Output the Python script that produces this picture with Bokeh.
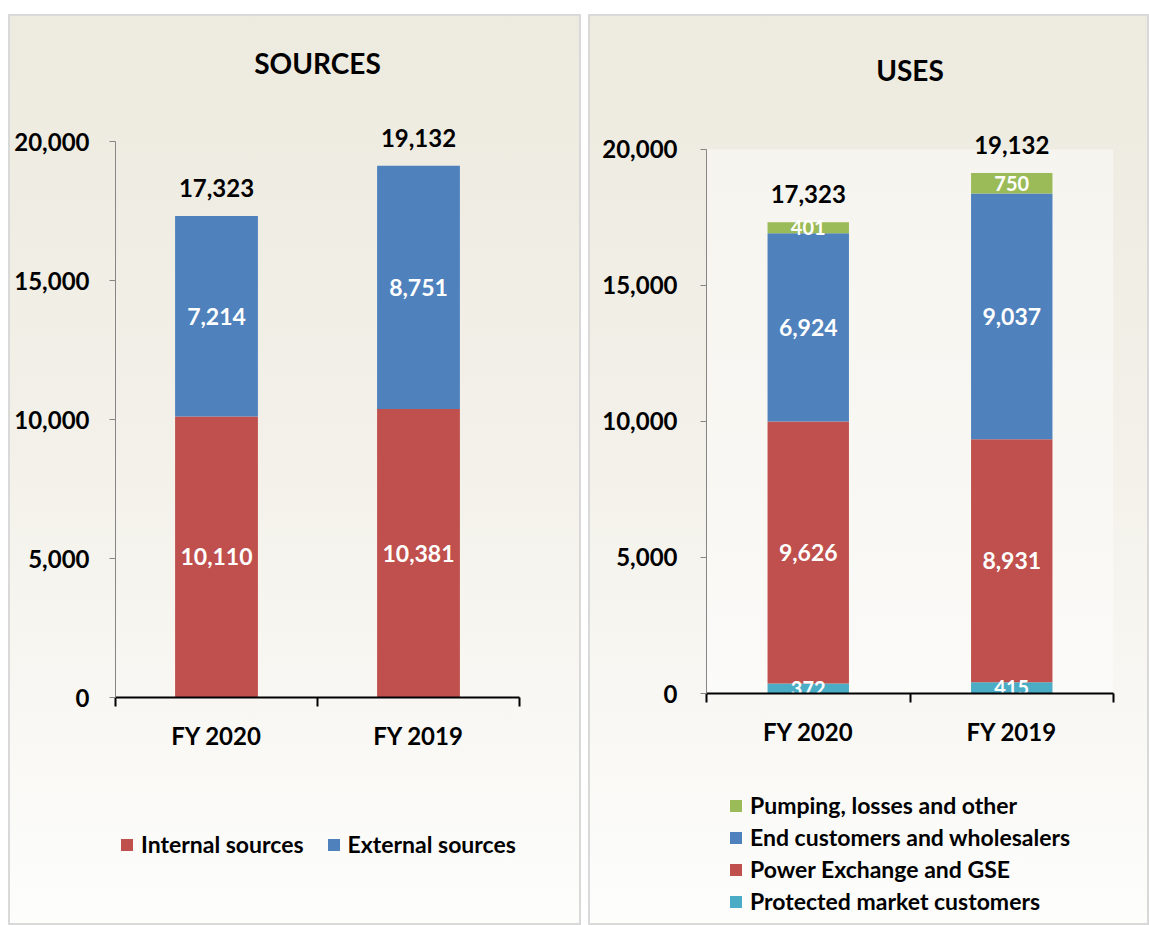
from bokeh.plotting import figure
from bokeh.models import (ColumnDataSource, Range1d, FixedTicker, LabelSet, Legend,
                          LegendItem, BoxAnnotation, NumeralTickFormatter)
from bokeh.core.properties import value
from bokeh.layouts import row, column
from bokeh.embed import file_html
from bokeh.resources import INLINE

# ---------------- data ----------------
categories = ["FY 2020", "FY 2019"]

src_series = ["Internal sources", "External sources"]
src_internal = [10110, 10381]
src_external = [7214, 8751]
src_totals = [17323, 19132]

use_series = ["Protected market customers", "Power Exchange and GSE",
              "End customers and wholesalers", "Pumping, losses and other"]
use_protected = [372, 415]
use_power = [9626, 8931]
use_end = [6924, 9037]
use_pumping = [401, 750]
use_totals = [17323, 19132]

y_ticks = [0, 5000, 10000, 15000, 20000]

RED = "#C0504D"
BLUE = "#4F81BD"
GREEN = "#9BBB59"
TEAL = "#4BACC6"
FONT = "Lato"
PANEL = {"background": "linear-gradient(180deg, #EDEADF 0%, #F2F0E8 45%, #FDFDFC 100%)",
         "outline": "2px solid #D9D9D9", "outline-offset": "-2px"}

xs = [i + 0.5 for i in range(len(categories))]


def clear(p):
    p.background_fill_color = None
    p.border_fill_color = None
    p.outline_line_color = None
    p.grid.visible = False


def make_fig(title, fw, fh, left, right, top, bottom, y_end, title_standoff, tick_standoff):
    p = figure(frame_width=fw, frame_height=fh, x_range=Range1d(0, len(categories)),
               y_range=Range1d(0, y_end), output_backend="svg", toolbar_location=None,
               min_border_left=left, min_border_right=right, min_border_top=top,
               min_border_bottom=bottom, title=title)
    clear(p)
    p.title.align = "center"
    p.title.text_font = FONT
    p.title.text_font_size = "28px"
    p.title.text_font_style = "bold"
    p.title.text_color = "black"
    p.title.standoff = title_standoff

    xa = p.xaxis[0]
    xa.ticker = FixedTicker(ticks=xs, minor_ticks=list(range(len(categories) + 1)))
    xa.major_label_overrides = {x: c for x, c in zip(xs, categories)}
    xa.major_tick_out = 0
    xa.major_tick_in = 0
    xa.minor_tick_out = 9
    xa.minor_tick_in = 0
    xa.minor_tick_line_color = "black"
    xa.minor_tick_line_width = 2
    xa.axis_line_color = "black"
    xa.axis_line_width = 2
    xa.major_label_text_font = FONT
    xa.major_label_text_font_style = "bold"
    xa.major_label_text_font_size = "24px"
    xa.major_label_text_color = "black"
    xa.major_label_standoff = 14

    ya = p.yaxis[0]
    ya.ticker = FixedTicker(ticks=y_ticks)
    ya.bounds = (y_ticks[0], y_ticks[-1])
    ya.formatter = NumeralTickFormatter(format="0,0")
    ya.axis_line_color = "#868686"
    ya.major_tick_line_color = "#868686"
    ya.major_tick_out = 6
    ya.major_tick_in = 0
    ya.minor_tick_line_color = None
    ya.major_label_text_font = FONT
    ya.major_label_text_font_style = "bold"
    ya.major_label_text_font_size = "24px"
    ya.major_label_text_color = "black"
    ya.major_label_standoff = tick_standoff
    return p


def seg_labels(p, bases, values, size):
    mids = [b + v / 2 for b, v in zip(bases, values)]
    s = ColumnDataSource(dict(x=xs, y=mids, t=[f"{v:,}" for v in values]))
    p.add_layout(LabelSet(x="x", y="y", text="t", source=s, text_align="center",
                          text_baseline="middle", text_color="white", text_font=value(FONT),
                          text_font_style="bold", text_font_size=size, level="glyph"))


def total_labels(p, totals):
    s = ColumnDataSource(dict(x=xs, y=totals, t=[f"{v:,}" for v in totals]))
    p.add_layout(LabelSet(x="x", y="y", text="t", source=s, text_align="center",
                          text_baseline="middle", y_offset=28, text_color="black",
                          text_font=value(FONT), text_font_style="bold",
                          text_font_size="24px"))


def legend_fig(width, height, names, colors, orientation, loc, size, spacing):
    lf = figure(frame_width=width, frame_height=height, x_range=Range1d(0, 1),
                y_range=Range1d(0, 1), output_backend="svg", toolbar_location=None,
                min_border=0)
    clear(lf)
    lf.axis.visible = False
    items = []
    for name, col in zip(names, colors):
        # legend swatch only: a zero-height bar placed outside the visible range
        proxy = lf.vbar(x=[-5], top=[0], width=0.1, fill_color=col, line_color=None)
        items.append(LegendItem(label=name, renderers=[proxy]))
    lg = Legend(items=items, orientation=orientation, location=loc)
    lg.background_fill_alpha = 0
    lg.border_line_color = None
    lg.label_text_font = FONT
    lg.label_text_font_style = "bold"
    lg.label_text_font_size = size
    lg.label_text_color = "black"
    lg.glyph_width = 15
    lg.glyph_height = 15
    lg.label_standoff = 7
    lg.label_height = 24
    lg.padding = 0
    lg.margin = 0
    lg.spacing = spacing
    lf.add_layout(lg)
    return lf


# ---------------- SOURCES ----------------
p1 = make_fig("SOURCES", 404, 597, 107, 62, 86, 60, 21475, 41, 20)
s1 = ColumnDataSource(dict(x=xs, internal=src_internal, external=src_external))
p1.vbar_stack(["internal", "external"], x="x", width=0.41, color=[RED, BLUE],
              line_color=None, source=s1)
seg_labels(p1, [0, 0], src_internal, "23px")
seg_labels(p1, src_internal, src_external, "23px")
total_labels(p1, src_totals)
lf1 = legend_fig(573, 168, src_series, [RED, BLUE], "horizontal", (111, 67), "23px", 22)

# ---------------- USES ----------------
p2 = make_fig("USES", 407, 593, 118, 36, 86, 64, 21801, 27, 23)
p2.add_layout(BoxAnnotation(bottom=0, top=20000, left=0, right=len(categories),
                            fill_color="white", fill_alpha=0.45, line_color=None,
                            level="underlay"))
s2 = ColumnDataSource(dict(x=xs, protected=use_protected, power=use_power,
                           end=use_end, pumping=use_pumping))
p2.vbar_stack(["protected", "power", "end", "pumping"], x="x", width=0.40,
              color=[TEAL, RED, BLUE, GREEN], line_color=None, source=s2)
b1 = use_protected
b2 = [a + b for a, b in zip(b1, use_power)]
b3 = [a + b for a, b in zip(b2, use_end)]
seg_labels(p2, [0, 0], use_protected, "20px")
seg_labels(p2, b1, use_power, "23px")
seg_labels(p2, b2, use_end, "23px")
seg_labels(p2, b3, use_pumping, "20px")
total_labels(p2, use_totals)
lf2 = legend_fig(561, 168, use_series[::-1], [GREEN, BLUE, RED, TEAL], "vertical",
                 (140, 10), "23px", 4)

col1 = column(p1, lf1, spacing=0)
col1.styles = PANEL
col2 = column(p2, lf2, spacing=0)
col2.styles = PANEL
layout = row(col1, col2, spacing=7)
layout.margin = (14, 0, 0, 8)

open("out.html", "w").write(file_html(layout, INLINE))
